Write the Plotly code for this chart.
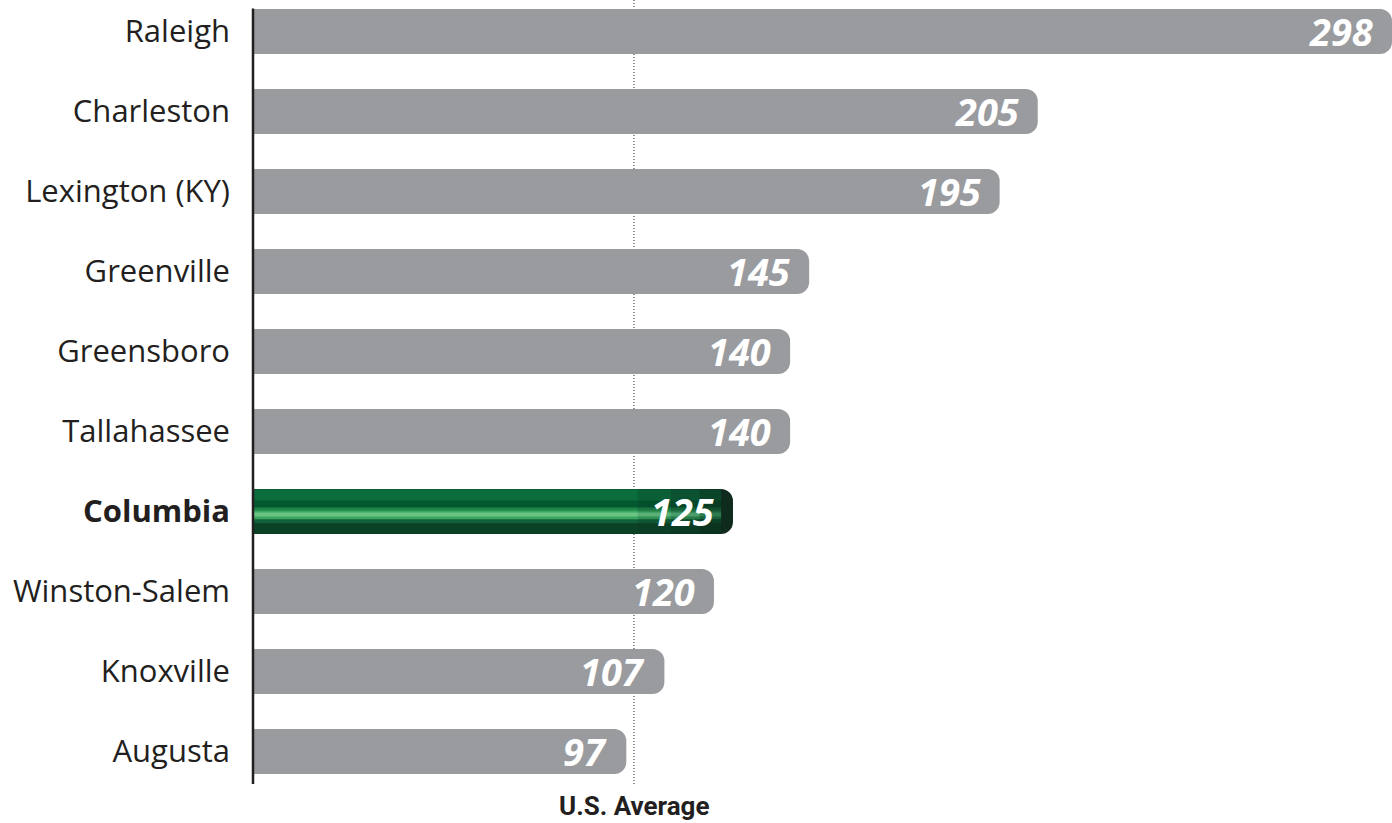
import plotly.graph_objects as go

CITIES = ['Raleigh', 'Charleston', 'Lexington (KY)', 'Greenville', 'Greensboro',
          'Tallahassee', 'Columbia', 'Winston-Salem', 'Knoxville', 'Augusta']
VALUES = [298, 205, 195, 145, 140, 140, 125, 120, 107, 97]
HIGHLIGHT = 'Columbia'
US_AVG = 99

COLORS = {
    'bar': '#999b9e',
    'text': '#231f20',
    'axis': '#231f20',
}
BASE = -8          # start bars left of the axis so the left rounded corners are clipped
BAR_W = 0.5625
RADIUS = 12
PX = 1 / 80        # one pixel in category units (80px per row)

fig = go.Figure()

others = [(c, v) for c, v in zip(CITIES, VALUES) if c != HIGHLIGHT]
fig.add_trace(go.Bar(
    y=[c for c, _ in others], x=[v - BASE for _, v in others], base=BASE,
    orientation='h', width=BAR_W, marker=dict(color=COLORS['bar'], cornerradius=RADIUS, line_width=0),
    hoverinfo='skip', showlegend=False,
))

# green "tube" for the highlighted city: horizontal bands (top px, height px),
# each drawn in a few shades that get darker toward the right end
hv = VALUES[CITIES.index(HIGHLIGHT)]
bands = [(-22, 12), (-11, 8), (-4, 4), (-1, 9), (1, 4), (8, 4), (12, 10)]
shades = [
    # (length fraction, colours per band)
    (0.975, ['#0a452a', '#073b23', '#124e2d', '#1b623c', '#2f7a4e', '#0b3f26', '#0a3320']),
    (0.93, ['#0a5232', '#06472a', '#176238', '#257a48', '#4a9c68', '#0d4c2e', '#0a3a23']),
    (0.87, ['#0b5f37', '#05502c', '#1b7441', '#2f9054', '#5bb077', '#0f5634', '#0b3e24']),
    (0.80, ['#0b6c3c', '#03582f', '#1f8547', '#3aa660', '#6cc483', '#10603a', '#0b4226']),
]
fig.add_trace(go.Bar(
    y=[HIGHLIGHT], x=[hv - BASE], base=BASE, width=BAR_W,
    orientation='h', marker=dict(color='#0f2b1d', cornerradius=RADIUS, line_width=0),
    hoverinfo='skip', showlegend=False,
))
for frac, cols in shades:
    for (top, h), col in zip(bands, cols):
        fig.add_trace(go.Bar(
            y=[HIGHLIGHT], x=[hv * frac - BASE], base=BASE, offset=top * PX, width=h * PX,
            orientation='h', marker=dict(color=col, line_width=0),
            hoverinfo='skip', showlegend=False,
        ))

for c, v in zip(CITIES, VALUES):
    fig.add_annotation(
        x=v, y=c, text=str(v), showarrow=False, xanchor='right', xshift=-17, yshift=1,
        font=dict(family='Open Sans, sans-serif', size=38, color='white', weight='bold', style='italic'),
    )

fig.add_shape(type='line', xref='x', yref='paper', x0=US_AVG, x1=US_AVG, y0=0, y1=1,
              line=dict(color=COLORS['text'], width=1, dash='1px,2px'), layer='below')
fig.add_shape(type='line', xref='paper', yref='paper', x0=0, x1=0, y0=0, y1=0.989,
              line=dict(color=COLORS['axis'], width=2.5))
fig.add_annotation(
    x=US_AVG, y=0, xref='x', yref='paper', yanchor='top', yshift=-5, showarrow=False,
    text='<b>U.S. Average</b>',
    font=dict(family='Liberation Sans Narrow, Roboto, sans-serif', size=26, color=COLORS['text']),
)

ticktext = [f'<b>{c}</b>' if c == HIGHLIGHT else c for c in CITIES]
fig.update_layout(
    width=1392, height=823,
    paper_bgcolor='white', plot_bgcolor='white',
    barmode='overlay',
    margin=dict(l=253, r=0, t=0, b=39),
    font=dict(family='Open Sans, sans-serif', color=COLORS['text']),
    xaxis=dict(range=[-1, 298], visible=False, showgrid=False, zeroline=False),
    yaxis=dict(
        categoryorder='array', categoryarray=CITIES,
        tickmode='array', tickvals=CITIES, ticktext=ticktext,
        range=[9.406, -0.394], showgrid=False, zeroline=False, showline=False,
        ticks='', ticklabelstandoff=22,
        tickfont=dict(size=31, color=COLORS['text']),
    ),
)

fig.write_html('out.html', config={'displayModeBar': False},
               post_script="document.body.style.margin='0';")
